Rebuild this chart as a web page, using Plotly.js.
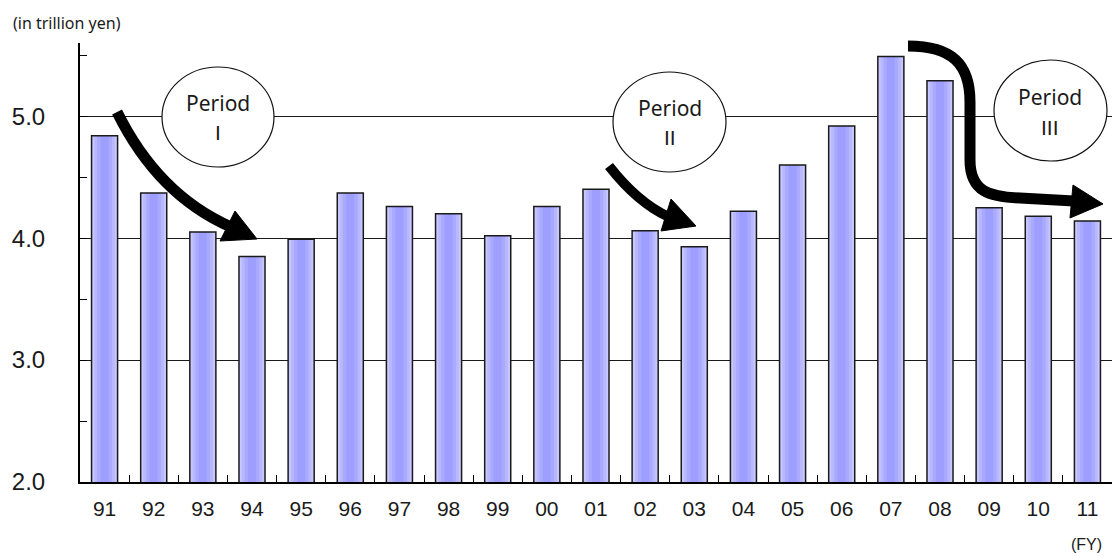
<!DOCTYPE html>
<html>
<head>
<meta charset="utf-8">
<script src="https://cdn.plot.ly/plotly-3.0.1.min.js"></script>
<style>
  html, body { margin: 0; padding: 0; background: #ffffff; }
  #chart { width: 1112px; height: 556px; }
</style>
</head>
<body>
<div id="chart"></div>
<script>
// Fiscal years and annual amounts (trillion yen)
const fiscalYears = ['91', '92', '93', '94', '95', '96', '97', '98', '99', '00',
                     '01', '02', '03', '04', '05', '06', '07', '08', '09', '10', '11'];
const amountTrillionYen = [4.84, 4.37, 4.05, 3.85, 3.99, 4.37, 4.26, 4.20, 4.02, 4.26,
                           4.40, 4.06, 3.93, 4.22, 4.60, 4.92, 5.49, 5.29, 4.25, 4.18, 4.14];
const yTickVals = [2, 3, 4, 5];
const yTickText = ['2.0', '3.0', '4.0', '5.0'];
const periodNames = ['I', 'II', 'III'];

// Plot box geometry
const W = 1112, H = 556;
const M = { l: 80, r: 0, t: 43, b: 74 };
const PW = W - M.l - M.r, PH = H - M.t - M.b;

// Pixel position inside the figure -> paper coordinates
function px(x) { return (x - M.l) / PW; }
function py(y) { return (H - M.b - y) / PH; }
function P(x, y) { return px(x).toFixed(4) + ',' + py(y).toFixed(4); }

// Bars: a light base with narrower, darker strips on top give a soft
// vertical gradient; a final transparent trace draws the outline.
const strips = [
  { width: 0.53, color: '#c8c8ff' },
  { width: 0.42, color: '#b8b8ff' },
  { width: 0.30, color: '#a9a9ff' },
  { width: 0.16, color: '#9e9eff' }
];
const traces = strips.map(s => ({
  type: 'bar',
  x: fiscalYears,
  y: amountTrillionYen,
  width: s.width,
  marker: { color: s.color, line: { width: 0 } },
  hoverinfo: 'skip'
}));
traces.push({
  type: 'bar',
  x: fiscalYears,
  y: amountTrillionYen,
  width: 0.53,
  marker: { color: 'rgba(0,0,0,0)', line: { color: '#1a1a1a', width: 1.5 } },
  hoverinfo: 'skip'
});

// Period ellipses (pixel boxes)
const ellipses = [
  { x0: 162, x1: 274, y0: 67, y1: 167 },
  { x0: 613, x1: 726, y0: 72, y1: 172 },
  { x0: 994, x1: 1107, y0: 60, y1: 161 }
];
const ellipseShapes = ellipses.map(e => ({
  type: 'circle', xref: 'paper', yref: 'paper',
  x0: px(e.x0), x1: px(e.x1), y0: py(e.y1), y1: py(e.y0),
  line: { color: '#111111', width: 1.2 },
  fillcolor: '#ffffff', layer: 'above'
}));

// Curved trend arrows: shaft paths and arrowheads
const shaft = (d, w) => ({
  type: 'path', xref: 'paper', yref: 'paper', path: d,
  line: { color: '#000000', width: w }, fillcolor: 'rgba(0,0,0,0)', layer: 'above'
});
const head = d => ({
  type: 'path', xref: 'paper', yref: 'paper', path: d,
  line: { color: '#000000', width: 1 }, fillcolor: '#000000', layer: 'above'
});
const arrowShapes = [
  shaft('M' + P(117, 112) + ' Q' + P(158, 195) + ' ' + P(231, 227), 11),
  head('M' + P(257, 239) + ' L' + P(235, 211) + ' L' + P(220, 241) + ' Z'),
  shaft('M' + P(609, 166) + ' Q' + P(638, 203) + ' ' + P(669, 217), 10),
  head('M' + P(696, 226) + ' L' + P(671, 199) + ' L' + P(661, 231) + ' Z'),
  shaft('M' + P(908, 46) + ' C' + P(952, 46) + ' ' + P(970, 64) + ' ' + P(970, 102) +
        ' L' + P(970, 160) + ' C' + P(970, 192) + ' ' + P(990, 197) + ' ' + P(1020, 198) +
        ' L' + P(1074, 201), 11),
  head('M' + P(1103, 204) + ' L' + P(1073, 185) + ' L' + P(1070, 218) + ' Z')
];

// Period captions
const captionPos = [
  { x: 218, yTop: 103, yBot: 132 },
  { x: 670, yTop: 108, yBot: 137 },
  { x: 1050, yTop: 97, yBot: 127 }
];
const captionFont = { family: 'Noto Sans, DejaVu Sans, sans-serif', size: 21, color: '#1a1a1a' };
const numeralFont = { family: 'Liberation Sans, Arial, sans-serif', size: 21, color: '#1a1a1a' };
const annotations = [];
captionPos.forEach((c, i) => {
  annotations.push({ xref: 'paper', yref: 'paper', x: px(c.x), y: py(c.yTop),
    text: 'Period', showarrow: false, xanchor: 'center', yanchor: 'middle', font: captionFont });
  annotations.push({ xref: 'paper', yref: 'paper', x: px(c.x), y: py(c.yBot),
    text: periodNames[i], showarrow: false, xanchor: 'center', yanchor: 'middle', font: numeralFont });
});
annotations.push({
  xref: 'paper', yref: 'paper', x: px(11), y: py(23), xanchor: 'left', yanchor: 'middle',
  text: '(in trillion yen)', showarrow: false,
  font: { family: 'Noto Sans, DejaVu Sans, sans-serif', size: 16, color: '#1a1a1a' }
});
annotations.push({
  xref: 'paper', yref: 'paper', x: px(1104), y: py(544), xanchor: 'right', yanchor: 'middle',
  text: '(FY)', showarrow: false,
  font: { family: 'Liberation Sans, Arial, sans-serif', size: 16, color: '#1a1a1a' }
});

const layout = {
  width: W, height: H,
  margin: M,
  paper_bgcolor: '#ffffff', plot_bgcolor: '#ffffff',
  showlegend: false, hovermode: false,
  barmode: 'overlay',
  xaxis: {
    type: 'category',
    showline: true, linecolor: '#000000', linewidth: 2,
    showgrid: false, zeroline: false,
    ticks: 'inside', tickson: 'boundaries', ticklen: 7, tickcolor: '#000000', tickwidth: 1,
    ticklabelstandoff: 7,
    tickfont: { family: 'Liberation Sans, Arial, sans-serif', size: 21, color: '#1a1a1a' }
  },
  yaxis: {
    range: [2, 5.6],
    tickvals: yTickVals, ticktext: yTickText,
    showline: true, linecolor: '#000000', linewidth: 2,
    showgrid: true, gridcolor: '#1a1a1a', gridwidth: 1,
    zeroline: false,
    ticks: '',
    minor: { dtick: 0.5, tick0: 2, ticks: 'inside', ticklen: 7, tickcolor: '#000000', showgrid: false },
    ticklabelstandoff: 28,
    tickfont: { family: 'Liberation Sans, Arial, sans-serif', size: 24, color: '#1a1a1a' }
  },
  shapes: ellipseShapes.concat(arrowShapes),
  annotations: annotations
};

Plotly.newPlot('chart', traces, layout, { staticPlot: true, displayModeBar: false });
</script>
</body>
</html>
